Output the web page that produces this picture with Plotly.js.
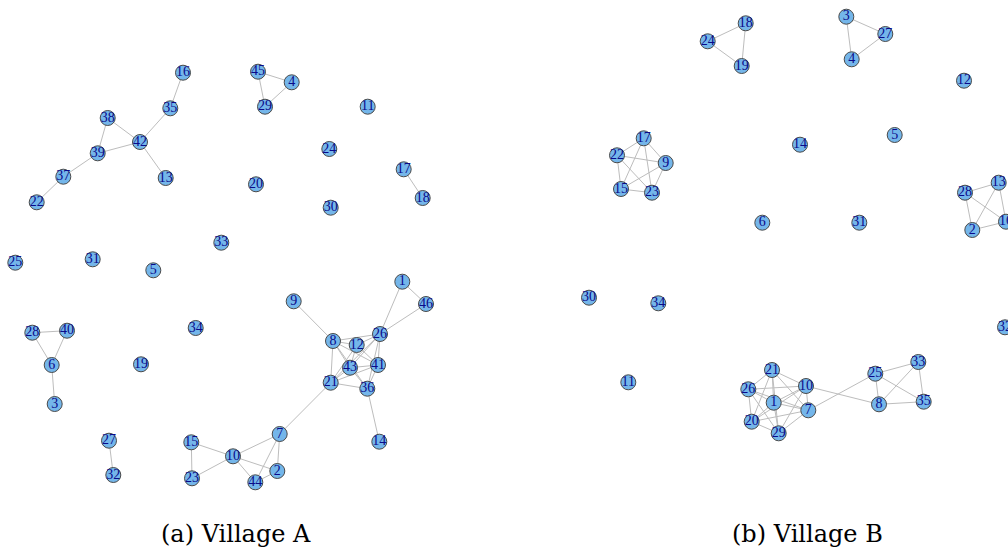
<!DOCTYPE html>
<html><head><meta charset="utf-8">
<script src="https://cdn.plot.ly/plotly-3.0.1.min.js"></script>
<style>html,body{margin:0;padding:0;background:#fff}#chart{width:1008px;height:552px}</style>
</head><body><div id="chart"></div>
<script>
// Village A layout (node label, x, y)
const nodesA_labels = ["16","45","4","29","11","35","38","42","39","13","24","17","37","20","18","22","30","33","25","31","5",
  "1","9","46","28","40","34","26","8","12","6","19","43","41","21","36","3","7","14","27","15","10","2","23","32","44"];
const nodesA_x = [183,258,291.7,265,367.7,170.3,107.7,140,97.7,165.7,329.3,403.7,63.3,256,422.7,36.7,330.7,221.3,15.3,92.7,153.3,
  402.3,293.7,426,32.3,67,195.7,380,333,356.7,51.7,141,350,378,330.7,367.3,54.7,279.7,379.3,109,191.3,233,277.3,192,113.3,255.3];
const nodesA_y = [72.7,71.7,82.3,106.7,106.7,108.3,118,142,153.3,178,149,169.3,176.7,184.3,198,202.3,207.7,242.7,262.7,259.3,270.3,
  281.7,301.3,304,332.7,330.7,328,334,341,345,365,364.3,367.7,365,382.7,388.7,404,434,441.7,440.7,442.3,456.3,471,478.3,475,482.3];
const edgesA = [["16","35"],["35","42"],["38","42"],["38","39"],["39","42"],["42","13"],["39","37"],["37","22"],
  ["45","4"],["45","29"],["29","4"],["17","18"],["28","40"],["28","6"],["40","6"],["6","3"],["27","32"],
  ["15","10"],["15","23"],["23","10"],["10","7"],["10","2"],["10","44"],["7","2"],["7","44"],["44","2"],["7","21"],
  ["9","8"],["1","26"],["1","46"],["46","26"],["36","14"],
  ["8","12"],["8","26"],["8","43"],["8","21"],["8","41"],["8","36"],["12","26"],["12","43"],["12","41"],["12","21"],
  ["26","43"],["26","41"],["26","21"],["26","36"],["43","41"],["43","21"],["43","36"],["41","21"],["41","36"],["21","36"]];

// Village B layout
const nodesB_labels = ["18","24","19","3","27","4","12","5","14","17","22","9","15","23","6","31","28","13","2","16",
  "30","34","32","11","21","26","10","1","7","20","29","25","33","8","35"];
const nodesB_x = [745.7,707.7,741.7,846.3,885.3,851.7,964,894.7,800,643.7,617,665.7,621,652,762.3,859.3,965,998.7,972.3,1006,
  589,658.3,1005,628.3,772,748.3,806,773.7,808.3,751.7,778.7,875.3,918.3,879,923.7];
const nodesB_y = [23.3,41.3,66,16.7,34,59.3,80.7,135,144.7,138.3,155.3,163,189,192.7,222.7,222.7,192.7,182.7,230,221.7,
  297.7,303.3,327.3,382.3,370,389.3,386,402.7,410.3,421.7,433.3,373.7,362,404.3,401.7];
const edgesB = [["18","24"],["18","19"],["24","19"],["3","27"],["3","4"],["27","4"],
  ["17","22"],["17","9"],["17","15"],["17","23"],["22","9"],["22","15"],["22","23"],["9","15"],["9","23"],["15","23"],
  ["28","13"],["28","2"],["28","16"],["13","2"],["13","16"],["2","16"],
  ["25","33"],["25","8"],["25","35"],["33","8"],["33","35"],["8","35"],["10","8"],["7","25"],
  ["21","26"],["21","10"],["21","1"],["21","29"],["21","20"],["21","7"],["26","10"],["26","1"],["26","20"],["26","29"],["26","7"],
  ["10","1"],["10","7"],["10","20"],["10","29"],["1","7"],["1","20"],["1","29"],["7","20"],["7","29"],["20","29"]];

const captions = ["(a) Village A","(b) Village B"];

function edgeTrace(labels, xs, ys, edges){
  const idx = {}; labels.forEach((l,i)=>idx[l]=i);
  const ex=[], ey=[];
  edges.forEach(([a,b])=>{ex.push(xs[idx[a]],xs[idx[b]],null); ey.push(ys[idx[a]],ys[idx[b]],null);});
  return {x:ex,y:ey,mode:'lines',type:'scatter',line:{color:'#BDBDBD',width:1},hoverinfo:'skip',showlegend:false};
}
function nodeTrace(labels, xs, ys){
  return {x:xs,y:ys,text:labels,mode:'markers+text',type:'scatter',textposition:'middle center',
    marker:{size:15,color:'#74B6EA',line:{color:'#4A4A4A',width:1}},
    textfont:{family:'Liberation Serif, DejaVu Serif, serif',size:14,color:'#0A0A8A'},showlegend:false,hoverinfo:'text'};
}

const data = [
  edgeTrace(nodesA_labels,nodesA_x,nodesA_y,edgesA),
  edgeTrace(nodesB_labels,nodesB_x,nodesB_y,edgesB),
  nodeTrace(nodesA_labels,nodesA_x,nodesA_y),
  nodeTrace(nodesB_labels,nodesB_x,nodesB_y)
];
const capFont = {family:'DejaVu Serif, Liberation Serif, serif',size:24,color:'#000'};
const layout = {
  width:1008,height:552,margin:{l:0,r:0,t:0,b:0},paper_bgcolor:'#fff',plot_bgcolor:'#fff',
  xaxis:{range:[0,1008],visible:false,fixedrange:true},
  yaxis:{range:[552,0],visible:false,fixedrange:true},
  annotations:[
    {text:captions[0],x:236,y:534,xref:'x',yref:'y',showarrow:false,font:capFont},
    {text:captions[1],x:807,y:534,xref:'x',yref:'y',showarrow:false,font:capFont}
  ]
};
Plotly.newPlot('chart',data,layout,{staticPlot:true,displayModeBar:false});
</script></body></html>
